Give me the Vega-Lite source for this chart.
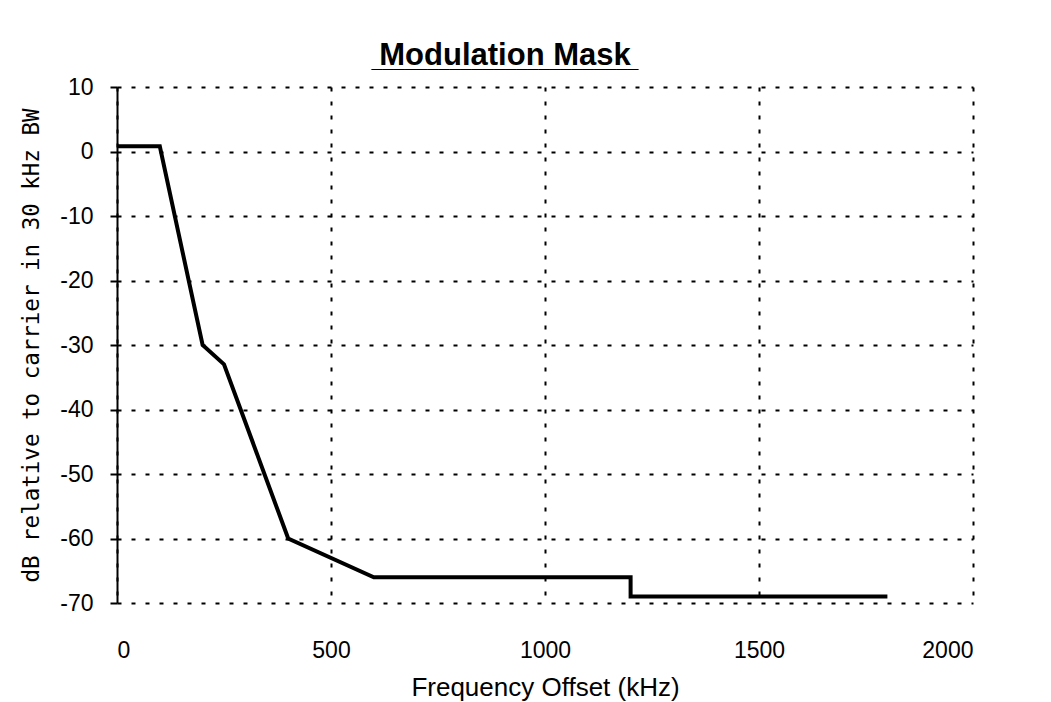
{
  "$schema": "https://vega.github.io/schema/vega-lite/v6.json",
  "width": 856,
  "height": 516,
  "autosize": {"type": "none"},
  "padding": {"left": 117, "top": 87, "right": 78, "bottom": 99},
  "background": "white",
  "title": {
    "text": "Modulation Mask",
    "subtitle": "________________________",
    "font": "Liberation Sans",
    "fontSize": 31,
    "fontWeight": "bold",
    "color": "black",
    "subtitleFont": "Liberation Sans",
    "subtitleFontSize": 20,
    "subtitleFontWeight": "bold",
    "subtitleColor": "black",
    "subtitlePadding": -21,
    "anchor": "middle",
    "dx": -40,
    "offset": 4
  },
  "data": {
    "values": [
      {"freq": 0, "db": 0.8},
      {"freq": 100, "db": 0.8},
      {"freq": 200, "db": -30},
      {"freq": 250, "db": -33},
      {"freq": 400, "db": -60},
      {"freq": 600, "db": -66},
      {"freq": 1200, "db": -66},
      {"freq": 1200, "db": -69},
      {"freq": 1800, "db": -69}
    ]
  },
  "mark": {"type": "line", "color": "black", "strokeWidth": 4, "strokeJoin": "miter"},
  "encoding": {
    "x": {
      "field": "freq",
      "type": "quantitative",
      "scale": {"domain": [0, 2000], "nice": false, "zero": false},
      "axis": {
        "title": "Frequency Offset (kHz)",
        "values": [0, 500, 1000, 1500, 2000],
        "labelExpr": "'' + datum.value",
        "domain": false,
        "ticks": false,
        "labelPadding": 36,
        "labelFontSize": 23,
        "labelFont": "Liberation Sans",
        "labelColor": "black",
        "titleFont": "Liberation Sans",
        "titleFontSize": 26,
        "titleFontWeight": "normal",
        "titleColor": "black",
        "titlePadding": 12,
        "grid": true,
        "gridColor": "black",
        "gridDash": [4, 10],
        "gridWidth": 2,
        "gridOpacity": 1
      }
    },
    "y": {
      "field": "db",
      "type": "quantitative",
      "scale": {"domain": [-70, 10], "nice": false, "zero": false},
      "axis": {
        "title": "dB relative to carrier in 30 kHz BW",
        "values": [-70, -60, -50, -40, -30, -20, -10, 0, 10],
        "labelExpr": "'' + datum.value",
        "domain": true,
        "domainColor": "black",
        "domainWidth": 2,
        "ticks": true,
        "tickColor": "black",
        "tickWidth": 2,
        "tickSize": 7,
        "labelPadding": 17,
        "labelFontSize": 23,
        "labelFont": "Liberation Sans",
        "labelColor": "black",
        "titleFont": "DejaVu Sans Mono",
        "titleFontSize": 22.5,
        "titleFontWeight": "normal",
        "titleColor": "black",
        "titlePadding": 16,
        "grid": true,
        "gridColor": "black",
        "gridDash": [4, 10],
        "gridWidth": 2,
        "gridOpacity": 1
      }
    }
  },
  "config": {"view": {"stroke": null}}
}
